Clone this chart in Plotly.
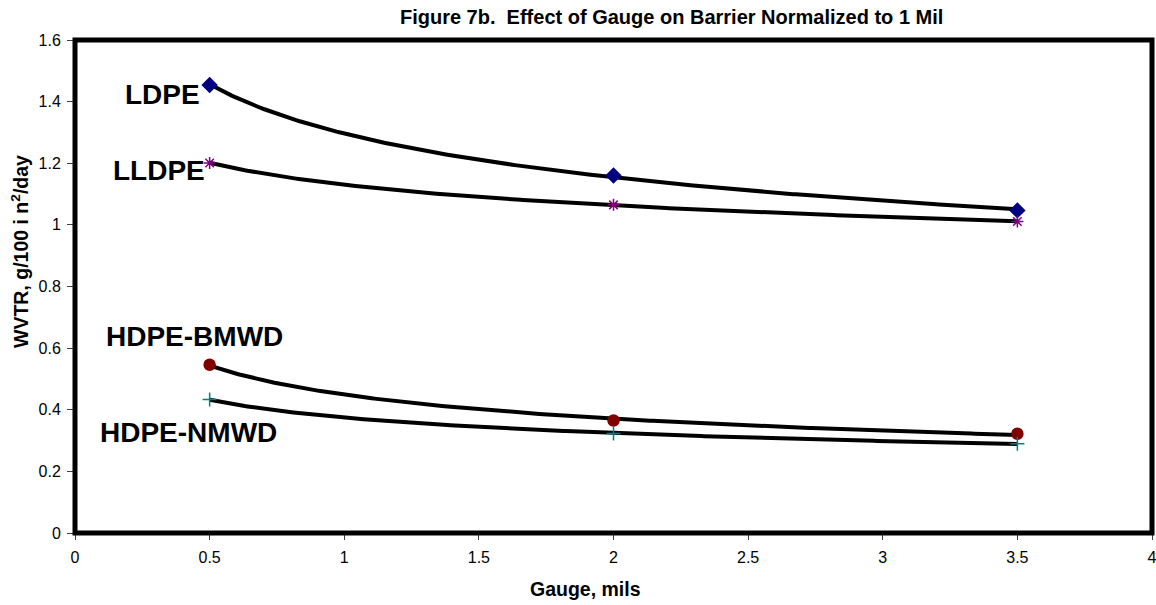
import numpy as np
import plotly.graph_objects as go

gauge = [0.5, 2.0, 3.5]
series_names = ["LDPE", "LLDPE", "HDPE-BMWD", "HDPE-NMWD"]
ldpe = [1.454, 1.160, 1.047]
lldpe = [1.201, 1.065, 1.011]
hdpe_bmwd = [0.546, 0.365, 0.322]
hdpe_nmwd = [0.433, 0.323, 0.290]
x_ticks = [0, 0.5, 1, 1.5, 2, 2.5, 3, 3.5, 4]
y_ticks = [0, 0.2, 0.4, 0.6, 0.8, 1, 1.2, 1.4, 1.6]

values = [ldpe, lldpe, hdpe_bmwd, hdpe_nmwd]
colors = ["#000080", "#800080", "#800000", "#008080"]
symbols = ["diamond", "asterisk", "circle", "cross-thin"]
sizes = [11, 10, 11, 10]

FONT = "Liberation Sans, Arial, sans-serif"

fig = go.Figure()
xs = np.linspace(gauge[0], gauge[-1], 300)
for name, vals in zip(series_names, values):
    b, lna = np.polyfit(np.log(gauge), np.log(vals), 1)
    fig.add_trace(go.Scatter(x=xs, y=np.exp(lna) * xs ** b, mode="lines",
                             line=dict(color="black", width=4), showlegend=False, hoverinfo="skip"))
for name, vals, c, s, sz in zip(series_names, values, colors, symbols, sizes):
    fig.add_trace(go.Scatter(x=gauge, y=vals, mode="markers", name=name,
                             marker=dict(color=c, symbol=s, size=sz, line=dict(color=c, width=1.5)),
                             showlegend=False))

labels = [("LDPE", 0.325, 1.422), ("LLDPE", 0.312, 1.178),
          ("HDPE-BMWD", 0.4455, 0.637), ("HDPE-NMWD", 0.421, 0.326)]
for txt, lx, ly in labels:
    fig.add_annotation(x=lx, y=ly, text="<b>%s</b>" % txt, showarrow=False,
                       xanchor="center", yanchor="middle",
                       font=dict(size=28, color="black", family=FONT))

# axis titles
fig.add_annotation(xref="paper", yref="paper", x=0.474, y=0, yshift=-56,
                   xanchor="center", yanchor="middle", showarrow=False,
                   text="<b>Gauge, mils</b>", font=dict(size=19.5, color="black", family=FONT))
fig.add_annotation(xref="paper", yref="paper", x=0, xshift=-55, y=0.570,
                   xanchor="center", yanchor="middle", showarrow=False, textangle=-90,
                   text="<b>WVTR, g/100 i n<sup>2</sup>/day</b>", font=dict(size=19.5, color="black", family=FONT))

# plot-area frame centered on the domain edges
fig.add_shape(type="rect", xref="paper", yref="paper", x0=0, x1=1, y0=0, y1=1,
              line=dict(color="black", width=5), layer="above")

fig.update_layout(
    width=1156, height=605,
    margin=dict(l=75, r=3.5, t=40, b=71.5),
    paper_bgcolor="white", plot_bgcolor="white",
    font=dict(family=FONT, size=16, color="black"),
    title=dict(text="<b>Figure 7b.  Effect of Gauge on Barrier Normalized to 1 Mil</b>",
               x=0.581, xanchor="center", y=0.972, yanchor="middle", font=dict(size=20)),
    xaxis=dict(range=[0, 4], tickvals=x_ticks, ticktext=[str(v) for v in x_ticks],
               showgrid=False, zeroline=False, ticks="outside", ticklen=6, tickwidth=1,
               tickcolor="#404040", showline=False, automargin=False, ticklabelstandoff=4,
               ticklabeloverflow="allow", tickfont=dict(size=16)),
    yaxis=dict(range=[0, 1.6], tickvals=y_ticks, ticktext=[str(v) for v in y_ticks],
               showgrid=False, zeroline=False, ticks="outside", ticklen=7, tickwidth=1,
               tickcolor="#404040", showline=False, automargin=False, ticklabelstandoff=3,
               ticklabeloverflow="allow", tickfont=dict(size=16)),
)
fig.write_html("out.html", config={"displayModeBar": False},
               post_script="document.body.style.margin='0';document.body.style.overflow='hidden';")
